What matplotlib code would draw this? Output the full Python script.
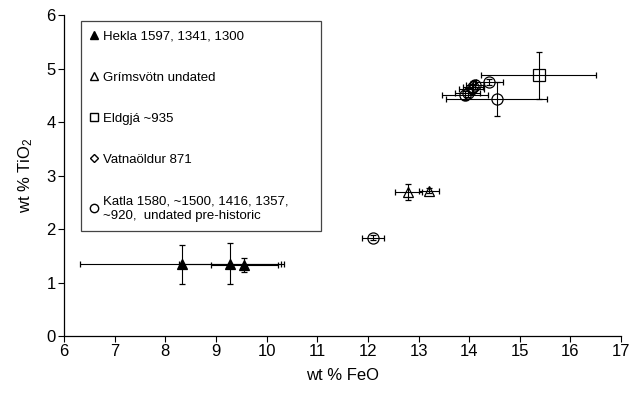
import matplotlib
matplotlib.use("Agg")
import matplotlib.pyplot as plt
from matplotlib.lines import Line2D

plt.rcParams['font.family'] = ['Liberation Sans', 'DejaVu Sans']
plt.rcParams['mathtext.default'] = 'regular'

#%% data

# Hekla 1597, 1341, 1300
hekla_feo = [8.33, 9.28, 9.56]
hekla_tio2 = [1.34, 1.35, 1.32]
hekla_feo_err = [2.02, 1.00, 0.66]
hekla_tio2_err = [0.36, 0.38, 0.13]

# Grimsvotn undated
grim_feo = [12.80, 13.21]
grim_tio2 = [2.70, 2.72]
grim_feo_err = [0.27, 0.20]
grim_tio2_err = [0.15, 0.05]

# Eldgja ~935
eld_feo = [15.37]
eld_tio2 = [4.87]
eld_feo_err = [1.13]
eld_tio2_err = [0.44]

# Vatnaoldur 871
vat_feo = [14.05]
vat_tio2 = [4.62]
vat_feo_err = [0.25]
vat_tio2_err = [0.10]

# Katla 1580, ~1500, 1416, 1357, ~920, undated pre-historic
katla_feo = [12.10, 13.92, 13.97, 14.08, 14.12, 14.40, 14.54]
katla_tio2 = [1.84, 4.50, 4.55, 4.66, 4.70, 4.75, 4.43]
katla_feo_err = [0.22, 0.45, 0.25, 0.20, 0.18, 0.26, 1.00]
katla_tio2_err = [0.04, 0.08, 0.08, 0.10, 0.08, 0.06, 0.32]

labels = ["Hekla 1597, 1341, 1300",
          "Grímsvötn undated",
          "Eldgjá ~935",
          "Vatnaöldur 871",
          "Katla 1580, ~1500, 1416, 1357,\n~920,  undated pre-historic"]

#%% plot

fig = plt.figure(figsize=(6.43, 3.96), dpi=100)
ax = fig.add_axes([0.0995, 0.1515, 0.8665, 0.8105])

eb = dict(ecolor='black', elinewidth=0.8, capsize=2, capthick=0.8,
          linestyle='none', color='black', markeredgewidth=0.9)

ax.errorbar(hekla_feo, hekla_tio2, xerr=hekla_feo_err, yerr=hekla_tio2_err,
            marker='^', markersize=7, markerfacecolor='black', **eb)
ax.errorbar(grim_feo, grim_tio2, xerr=grim_feo_err, yerr=grim_tio2_err,
            marker='^', markersize=7, markerfacecolor='none', **eb)
ax.errorbar(eld_feo, eld_tio2, xerr=eld_feo_err, yerr=eld_tio2_err,
            marker='s', markersize=9, markerfacecolor='none', **eb)
ax.errorbar(vat_feo, vat_tio2, xerr=vat_feo_err, yerr=vat_tio2_err,
            marker='D', markersize=6, markerfacecolor='none', **eb)
ax.errorbar(katla_feo, katla_tio2, xerr=katla_feo_err, yerr=katla_tio2_err,
            marker='o', markersize=8, markerfacecolor='none', **eb)

ax.set_xlim(6, 17)
ax.set_ylim(0, 6)
ax.set_xticks(range(6, 18))
ax.set_yticks(range(0, 7))
ax.tick_params(labelsize=12, length=4, width=0.8, direction='out', pad=2)
ax.spines['top'].set_visible(False)
ax.spines['right'].set_visible(False)
ax.spines['left'].set_linewidth(0.9)
ax.spines['bottom'].set_linewidth(0.9)

ax.set_xlabel("wt % FeO", fontsize=12, labelpad=6)
ax.set_ylabel("wt % TiO$_2$", fontsize=12, labelpad=8)

# legend: markers only, like the original
handles = [
    Line2D([], [], ls='none', marker='^', ms=6, color='black', mfc='black'),
    Line2D([], [], ls='none', marker='^', ms=6, color='black', mfc='none'),
    Line2D([], [], ls='none', marker='s', ms=6, color='black', mfc='none'),
    Line2D([], [], ls='none', marker='D', ms=4.5, color='black', mfc='none'),
    Line2D([], [], ls='none', marker='o', ms=6, color='black', mfc='none'),
]
leg = ax.legend(handles, labels, loc='upper left',
                bbox_to_anchor=(0.030, 0.33, 0.431, 0.652), mode='expand',
                borderaxespad=0, fontsize=9.5, frameon=True, fancybox=False,
                edgecolor='#444444', framealpha=1, handlelength=0.6,
                handletextpad=0.4, labelspacing=2.2, borderpad=0.7)
leg.get_frame().set_linewidth(0.9)
for t in leg.get_texts():
    t.set_linespacing(1.3)

fig.savefig("out.png", dpi=100)
